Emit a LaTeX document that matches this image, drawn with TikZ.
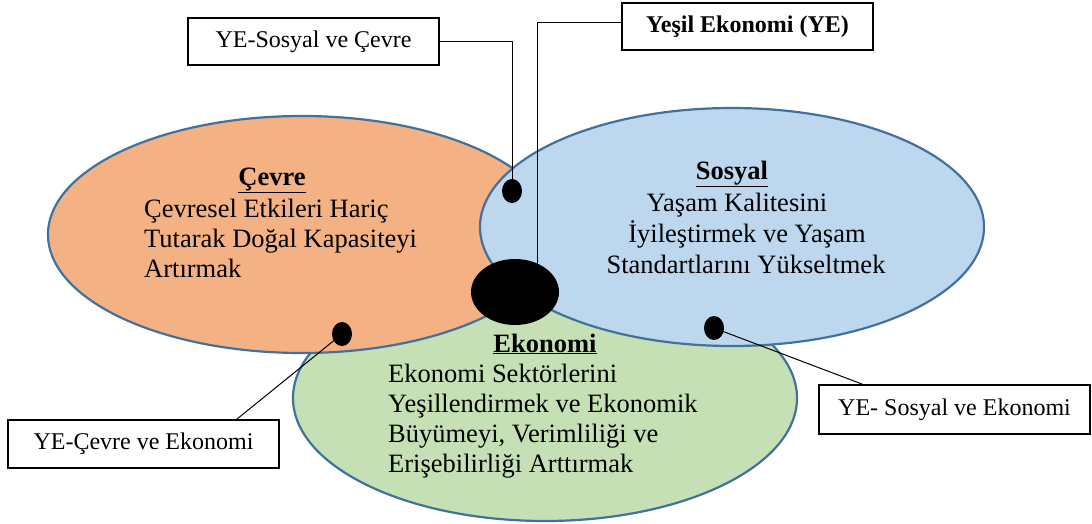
\documentclass[tikz,border=0pt]{standalone}
\usepackage{fontspec}
\setmainfont{Liberation Serif}
\usetikzlibrary{shapes.geometric}
\definecolor{cevreC}{HTML}{F4B183}
\definecolor{sosyalC}{HTML}{BDD7EE}
\definecolor{ekoC}{HTML}{C5E0B4}
\definecolor{edgeC}{HTML}{41719C}
\begin{document}
\begin{tikzpicture}[x=1pt,y=-1pt,
  circ/.style={ellipse, draw=edgeC, line width=2.2pt, inner sep=0pt},
  blob/.style={ellipse, fill=black, inner sep=0pt},
  lbl/.style={draw=black, line width=1.8pt, fill=white, inner sep=0pt,
    font=\fontsize{24}{28}\selectfont, text height=16pt, text depth=5pt},
  ttl/.style={font=\fontsize{26.5}{30}\selectfont\bfseries, inner sep=0pt, anchor=base},
  bodyL/.style={font=\fontsize{26.5}{30}\selectfont, inner sep=0pt, anchor=base west},
  bodyC/.style={font=\fontsize{26.5}{30}\selectfont, inner sep=0pt, anchor=base},
  conn/.style={draw=black, line width=1pt}]
\path[use as bounding box] (0,0) rectangle (1092,523);
% big ellipses
\node[circ, fill=ekoC, minimum width=504pt, minimum height=246pt] (eko) at (545,398) {};
\node[circ, fill=cevreC, minimum width=508pt, minimum height=237pt] (cevre) at (302,234.5) {};
\node[circ, fill=sosyalC, minimum width=504pt, minimum height=238pt] (sosyal) at (732,227) {};
% texts
\node[ttl] (tc) at (272,185) {\underline{Çevre}};
\node[bodyL] (c1) at (144,217) {Çevresel Etkileri Hariç};
\node[bodyL] (c2) at (144,247) {Tutarak Doğal Kapasiteyi};
\node[bodyL] (c3) at (144,277) {Artırmak};
\node[ttl] (ts) at (732,179) {\underline{Sosyal}};
\node[bodyC] (s1) at (737,211) {Yaşam Kalitesini};
\node[bodyC] (s2) at (747,242) {İyileştirmek ve Yaşam};
\node[bodyC] (s3) at (746,273) {Standartlarını Yükseltmek};
\node[ttl] (te) at (545,352) {\underline{Ekonomi}};
\node[bodyL] (e1) at (388,382) {Ekonomi Sektörlerini};
\node[bodyL] (e2) at (388,412) {Yeşillendirmek ve Ekonomik};
\node[bodyL] (e3) at (388,442) {Büyümeyi, Verimliliği ve};
\node[bodyL] (e4) at (388,472) {Erişebilirliği Arttırmak};
% label boxes
\node[lbl, minimum width=251pt, minimum height=47pt] (b1) at (313.5,41.5) {YE-Sosyal ve Çevre};
\node[lbl, minimum width=251pt, minimum height=47pt, font=\fontsize{24}{28}\selectfont\bfseries] (b2) at (747.5,26.5) {Yeşil Ekonomi (YE)};
\node[lbl, minimum width=271pt, minimum height=48pt] (b3) at (143.5,444) {YE-Çevre ve Ekonomi};
\node[lbl, minimum width=271pt, minimum height=49pt] (b4) at (954.5,409.5) {YE- Sosyal ve Ekonomi};
% dots
\node[blob, minimum width=88pt, minimum height=66pt] (blk) at (515,292) {};
\node[blob, minimum width=20pt, minimum height=24pt] (d1) at (512,191) {};
\node[blob, minimum width=20pt, minimum height=24pt] (d2) at (342,334) {};
\node[blob, minimum width=20pt, minimum height=24pt] (d3) at (714,328) {};
% connectors
\coordinate (y1) at (537,22);
\draw[conn] (b1.east) -| (d1.center);
\draw[conn] (b2.west |- y1) -- (y1) -- (y1 |- blk.center);
\draw[conn] (d2.center) -- ([xshift=-43pt]b3.north east);
\draw[conn] (d3.center) -- ([xshift=44pt]b4.north west);
\end{tikzpicture}
\end{document}
